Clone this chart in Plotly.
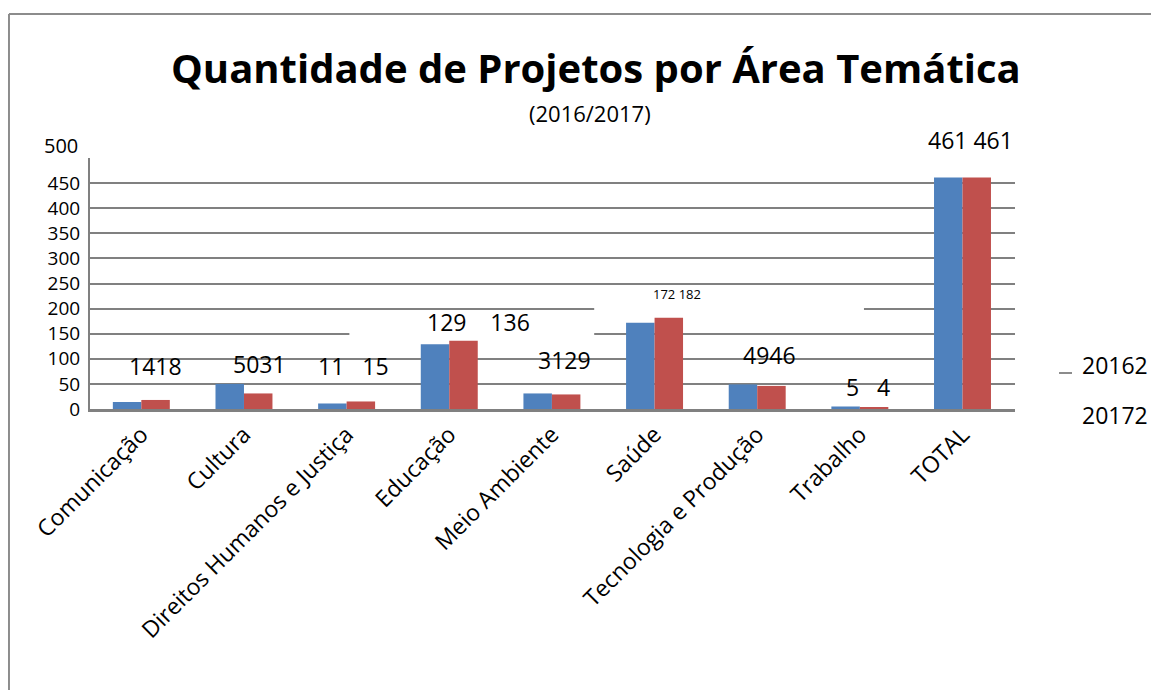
import plotly.graph_objects as go

categories = ["Comunicação", "Cultura", "Direitos Humanos e Justiça", "Educação",
              "Meio Ambiente", "Saúde", "Tecnologia e Produção", "Trabalho", "TOTAL"]
values_2016 = [14, 50, 11, 129, 31, 172, 49, 5, 461]
values_2017 = [18, 31, 15, 136, 29, 182, 46, 4, 461]
series_names = ["20162", "20172"]
y_ticks = [0, 50, 100, 150, 200, 250, 300, 350, 400, 450, 500]
y_ticktext = ["0", "50", "100", "150", "200", "250", "300", "350", "400", "450", ""]

# label styling (separator, font size, pixel offsets) as in the source picture
label_seps = ["", "", "   ", "    ", "", " ", "", "   ", " "]
label_sizes = [23, 23, 23, 23, 23, 13, 23, 23, 23]
label_xshift = [14, 16, 7, 29, 13, 22, 12, 8, 8]
label_yshift = [34, 20, 35, 19, 33, 24, 29, 19, 38]

BLUE = "#4F81BD"
RED = "#C0504D"
GRID = "#808080"
FONT = "Open Sans"

fig = go.Figure()
fig.add_trace(go.Bar(x=categories, y=values_2016, name=series_names[0],
                     marker=dict(color=BLUE, line=dict(width=0))))
fig.add_trace(go.Bar(x=categories, y=values_2017, name=series_names[1],
                     marker=dict(color=RED, line=dict(width=0))))

annotations = []
for c, a, b, s, fs, xs, ys in zip(categories, values_2016, values_2017, label_seps,
                                  label_sizes, label_xshift, label_yshift):
    annotations.append(dict(x=c, y=max(a, b), xref="x", yref="y",
                            text=f"{a}{s}{b}", showarrow=False,
                            xshift=xs, yshift=ys, yanchor="middle",
                            font=dict(size=fs, color="#000000", family=FONT)))

# top tick label (drawn a bit above the top gridline, as in the source)
annotations.append(dict(x=0, y=y_ticks[-1], xref="paper", yref="y", xanchor="right",
                        yanchor="middle", xshift=-10, yshift=13, text=str(y_ticks[-1]),
                        showarrow=False, font=dict(size=20, family=FONT, color="#000")))

# title & subtitle
annotations.append(dict(x=0.5465, y=1.359, xref="paper", yref="paper",
                        xanchor="center", yanchor="middle",
                        text="<b>Quantidade de Projetos por Área Temática</b>",
                        showarrow=False, font=dict(size=40, family=FONT, color="#000")))
annotations.append(dict(x=0.5405, y=1.179, xref="paper", yref="paper",
                        xanchor="center", yanchor="middle",
                        text="(2016/2017)", showarrow=False,
                        font=dict(size=22, family=FONT, color="#000")))
# legend text
annotations.append(dict(x=1.0703, y=0.175, xref="paper", yref="paper",
                        xanchor="left", yanchor="middle",
                        text=series_names[0], showarrow=False,
                        font=dict(size=23, family=FONT, color="#000")))
annotations.append(dict(x=1.0703, y=-0.024, xref="paper", yref="paper",
                        xanchor="left", yanchor="middle",
                        text=series_names[1], showarrow=False,
                        font=dict(size=23, family=FONT, color="#000")))

shapes = [
    # outer frame (top and left edges)
    dict(type="line", xref="paper", yref="paper", x0=-0.0876, x1=1.3, y0=1.5737, y1=1.5737,
         line=dict(color="#8C8C8C", width=2)),
    dict(type="line", xref="paper", yref="paper", x0=-0.0876, x1=-0.0876, y0=1.5737, y1=-1.3,
         line=dict(color="#8C8C8C", width=2)),
    # tiny legend key dash
    dict(type="line", xref="paper", yref="paper", x0=1.0476, x1=1.0616, y0=0.1434, y1=0.1434,
         line=dict(color="#8C8C8C", width=2)),
    # white label boxes that interrupt the gridlines in the source
    dict(type="rect", xref="x", yref="y", x0=2.027, x1=4.412, y0=146, y1=154,
         fillcolor="white", line=dict(width=0), layer="between"),
    dict(type="rect", xref="x", yref="y", x0=4.412, x1=7.04, y0=196, y1=204,
         fillcolor="white", line=dict(width=0), layer="between"),
]

fig.update_layout(
    width=1151, height=682,
    margin=dict(l=82, r=144, t=150, b=281),
    paper_bgcolor="white", plot_bgcolor="white",
    barmode="group", bargap=0.445, bargroupgap=0,
    showlegend=False,
    annotations=annotations, shapes=shapes,
    font=dict(family=FONT, color="#000"),
)
fig.update_yaxes(range=[0, 500], tickvals=y_ticks, ticktext=y_ticktext,
                 showgrid=True, gridcolor=GRID, gridwidth=2,
                 showline=True, linecolor=GRID, linewidth=2, zeroline=False,
                 tickfont=dict(size=19, family=FONT, color="#000"), ticks="", ticklen=0,
                 ticklabelstandoff=4)
fig.update_xaxes(showline=True, linecolor=GRID, linewidth=3, tickangle=-45,
                 tickfont=dict(size=23, family=FONT, color="#000"), ticks="")

fig.write_html("out.html")
